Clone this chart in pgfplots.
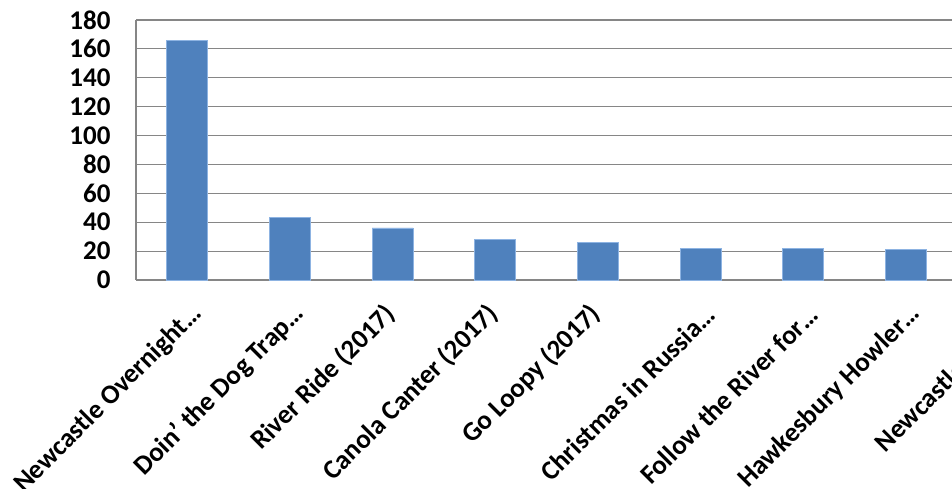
\documentclass[border=0pt]{standalone}
\usepackage{pgfplots}
\pgfplotsset{compat=1.18}
\usepackage{fontspec}
\setmainfont{Carlito}
\definecolor{barblue}{HTML}{4F81BD}
\definecolor{baredge}{HTML}{8DB3E2}
\definecolor{gridgray}{HTML}{868686}
\newcommand{\el}[1]{\raisebox{-8.5pt}[\height][\depth]{#1}\kern-8.5pt}
\begin{document}
\begin{tikzpicture}[x=1pt,y=1pt]
\path[use as bounding box] (0,0) rectangle (952,489);
\clip (0,0) rectangle (952,489);
\begin{axis}[
  at={(136pt,209pt)}, anchor=south west,
  scale only axis,
  width=924pt, height=260pt,
  ymin=0, ymax=180, ytick={0,20,...,180},
  xmin=-0.5, xmax=8.5,
  xtick={0,...,8},
  xticklabels={\el{Newcastle Overnight…},\el{Doin' the Dog Trap…},River Ride (2017),Canola Canter (2017),Go Loopy (2017),\el{Christmas in Russia…},\el{Follow the River for…},\el{Hawkesbury Howler…},\el{Newcastle Loop…}},
  axis x line*=bottom, axis y line*=left,
  axis line style={gridgray, line width=1.5pt, -},
  ymajorgrids, grid style={gridgray, line width=1.2pt},
  major tick length=0pt,
  tick style={draw=none},
  ybar, bar width=41pt,
  /pgf/number format/assume math mode=true,
  ticklabel style={font=\fontsize{27}{29}\selectfont\bfseries},
  yticklabel style={xshift=-22pt},
  xticklabel style={rotate=45, anchor=east, xshift=-19pt, yshift=-20pt},
  clip=false,
]
\addplot[fill=barblue, draw=baredge, line width=0.8pt] coordinates {
(0,166) (1,43) (2,36) (3,28) (4,26) (5,22) (6,22) (7,21) (8,20)
};
\end{axis}
\end{tikzpicture}
\end{document}
